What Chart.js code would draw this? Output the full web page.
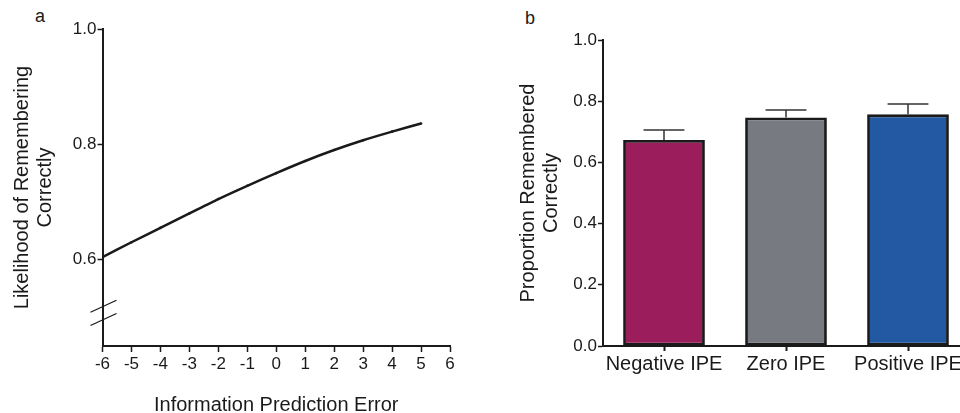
<!DOCTYPE html>
<html>
<head>
<meta charset="utf-8">
<script src="https://cdn.jsdelivr.net/npm/chart.js@4.4.1/dist/chart.umd.min.js"></script>
<style>
  html,body{margin:0;padding:0;background:#fff;overflow:hidden;width:960px;height:413px}
  canvas{position:absolute;top:0}
  #ca{left:0}
  #cb{left:480px}
  .lbl{position:absolute;font:18px "Liberation Sans",Arial,sans-serif;color:#1a1a1a}
</style>
</head>
<body>
<div class="lbl" style="left:35px;top:6px">a</div>
<div class="lbl" style="left:525px;top:8px">b</div>
<canvas id="ca" width="480" height="413"></canvas>
<canvas id="cb" width="500" height="413"></canvas>
<script>
// panel a - fitted likelihood by information prediction error
const ipe = [-6,-5,-4,-3,-2,-1,0,1,2,3,4,5];
const likelihood = [0.604,0.630,0.655,0.680,0.705,0.728,0.750,0.771,0.790,0.807,0.822,0.836];
const yTicksA = [0.6,0.8,1.0];

// panel b - proportion remembered with SEM
const categories = ['Negative IPE','Zero IPE','Positive IPE'];
const proportion = [0.673,0.747,0.757];
const sem = [0.033,0.024,0.034];
const barColors = ['#9c1d5b','#787a82','#2358a3'];

const ink = '#1a1a1a';
Chart.defaults.font.family = '"Liberation Sans", Arial, sans-serif';
Chart.defaults.color = ink;

const axisBits = (tl) => ({
  grid:{drawOnChartArea:false,tickLength:tl,tickColor:ink,tickWidth:1.5},
  border:{color:ink,width:2}
});

// the // marks on the broken y axis
const breakMarks = {
  id:'breakMarks',
  afterDraw(c){
    const y = c.scales.y, ctx = c.ctx, x0 = c.chartArea.left;
    ctx.save();
    ctx.strokeStyle = ink; ctx.lineWidth = 1.3;
    [0.519,0.496].forEach(v=>{
      const py = y.getPixelForValue(v);
      ctx.beginPath();
      ctx.moveTo(x0-12,py+6);
      ctx.lineTo(x0+14,py-6);
      ctx.stroke();
    });
    ctx.restore();
  }
};

new Chart(document.getElementById('ca'),{
  type:'line',
  data:{datasets:[{
    data:ipe.map((x,i)=>({x,y:likelihood[i]})),
    borderColor:ink,borderWidth:2.5,
    pointRadius:1.3,pointBackgroundColor:ink,pointBorderWidth:0,
    tension:0.2
  }]},
  options:{
    responsive:false,animation:false,
    layout:{padding:{left:0,right:30,top:29,bottom:0}},
    plugins:{legend:{display:false},tooltip:{enabled:false}},
    scales:{
      x:{type:'linear',min:-6,max:6,
        ticks:{stepSize:1,font:{size:17},padding:2},
        ...axisBits(6),
        title:{display:true,text:'Information Prediction Error',font:{size:20,lineHeight:0.8},padding:0},
        afterFit:s=>{s.height=67}},
      y:{min:0.45,max:1.0,
        afterBuildTicks:s=>{s.ticks=yTicksA.map(v=>({value:v}))},
        ticks:{callback:v=>v.toFixed(1),font:{size:17},padding:1},
        ...axisBits(5),
        title:{display:true,text:['Likelihood of Remembering','Correctly'],font:{size:20,lineHeight:1.15},padding:{top:11,bottom:0}},
        afterFit:s=>{s.width=102.5}}
    }
  },
  plugins:[breakMarks]
});

// upward-only error bars
const errBars = {
  id:'errBars',
  afterDatasetsDraw(c){
    const meta = c.getDatasetMeta(0), y = c.scales.y, ctx = c.ctx;
    ctx.save();
    ctx.strokeStyle = '#333'; ctx.lineWidth = 1.5;
    meta.data.forEach((bar,i)=>{
      const top = y.getPixelForValue(proportion[i]+sem[i]);
      const base = y.getPixelForValue(proportion[i]);
      const half = bar.width/4;
      ctx.beginPath();
      ctx.moveTo(bar.x,base); ctx.lineTo(bar.x,top);
      ctx.moveTo(bar.x-half,top); ctx.lineTo(bar.x+half,top);
      ctx.stroke();
    });
    ctx.restore();
  }
};

new Chart(document.getElementById('cb'),{
  type:'bar',
  data:{labels:categories,datasets:[{
    data:proportion,backgroundColor:barColors,
    borderColor:ink,borderWidth:2.8,borderSkipped:false,
    barPercentage:0.67,categoryPercentage:1
  }]},
  options:{
    responsive:false,animation:false,
    layout:{padding:{left:0,right:11,top:40,bottom:0}},
    plugins:{legend:{display:false},tooltip:{enabled:false}},
    scales:{
      x:{
        ticks:{font:{size:20},padding:1,maxRotation:0,minRotation:0,autoSkip:false},
        ...axisBits(5),
        grid:{offset:false,drawOnChartArea:false,tickLength:5,tickColor:ink,tickWidth:2},
        afterFit:s=>{s.height=67}},
      y:{min:0,max:1,
        ticks:{stepSize:0.2,callback:v=>v.toFixed(1),font:{size:17},padding:1},
        ...axisBits(5),
        title:{display:true,text:['Proportion Remembered','Correctly'],font:{size:20,lineHeight:1.15},padding:{top:37,bottom:0}},
        afterFit:s=>{s.width=123}}
    }
  },
  plugins:[errBars]
});
</script>
</body>
</html>
